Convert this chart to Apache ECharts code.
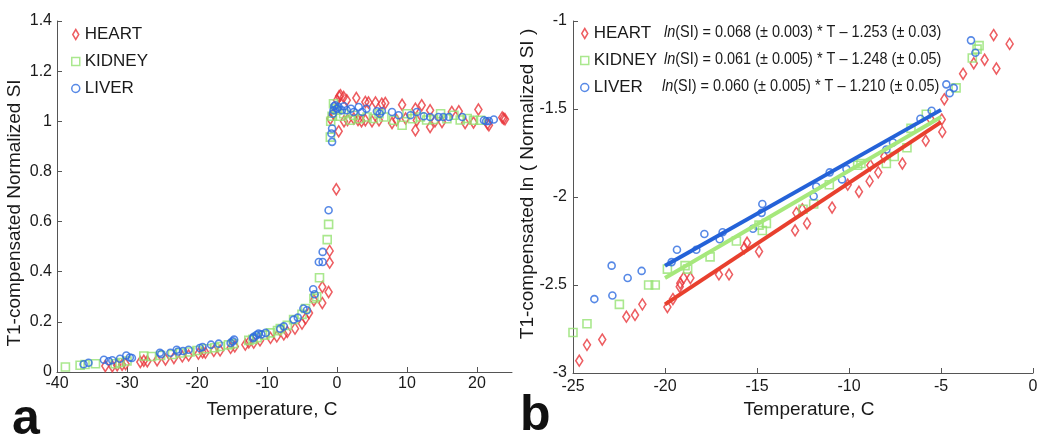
<!DOCTYPE html>
<html><head><meta charset="utf-8">
<script src="https://cdn.jsdelivr.net/npm/echarts@6/dist/echarts.min.js"></script>
<style>html,body{margin:0;padding:0;background:#fff}#c{width:1050px;height:442px}</style>
</head><body><div id="c"></div>
<script>
// ---------- data ----------
const seriesNames = ['HEART', 'KIDNEY', 'LIVER'];
const equations = [
  '(SI) = 0.068 (\u00b1 0.003) * T \u2013 1.253 (\u00b1 0.03)',
  '(SI) = 0.061 (\u00b1 0.005) * T \u2013 1.248 (\u00b1 0.05)',
  '(SI) = 0.060 (\u00b1 0.005) * T \u2013 1.210 (\u00b1 0.05)'
];
const leftXTicks = [-40, -30, -20, -10, 0, 10, 20];
const leftYTicks = [0, 0.2, 0.4, 0.6, 0.8, 1, 1.2, 1.4];
const rightXTicks = [-25, -20, -15, -10, -5, 0];
const rightYTicks = [-3, -2.5, -2, -1.5, -1];

const heartLeft = [
[-33.1,0.024],[-32.1,0.023],[-31.4,0.027],[-30.7,0.029],[-30.2,0.032],[-28.1,0.040],[-27.6,0.045],[-27.1,0.043],[-25.7,0.047],[-24.5,0.050],[-23.3,0.056],[-22.1,0.062],[-21.2,0.066],[-19.8,0.073],[-19.2,0.078],[-18.8,0.077],[-17.6,0.084],[-16.7,0.086],[-15.2,0.096],[-14.6,0.102],[-13.1,0.109],[-12.6,0.118],[-11.9,0.117],[-11.0,0.126],[-9.5,0.136],[-8.6,0.142],[-7.6,0.150],[-7.1,0.160],[-6.0,0.173],[-5.0,0.193],[-4.5,0.213],[-4.0,0.235],[-3.3,0.286],[-2.1,0.275],[-2.1,0.339],[-1.2,0.319],[-1.05,0.436],[-1.05,0.483],[-0.1,0.729],[0.24,0.96],
[-0.95,1.01],[-0.5,1.03],[0,1.084],[0.3,1.10],[0.5,1.104],[0.95,1.097],[1.4,1.084],[1.0,1.0],[1.5,1.005],[2.4,1.011],[2.76,1.093],[3.0,1.005],[3.5,1.0],[4.05,1.077],[4.05,1.004],[4.5,1.075],[5.0,1.0],[5.5,1.075],[6.0,1.004],[6.4,1.07],[6.9,1.073],[7.86,0.993],[8.5,1.005],[9.3,1.066],[9.8,1.011],[11.2,0.964],[11.2,1.05],[11.4,1.004],[12.1,1.064],[13.3,0.977],[13.3,1.044],[14.0,1.0],[15.0,0.997],[16.4,1.037],[17.4,1.04],[18.3,0.993],[19.5,0.995],[20.2,1.047],[21.5,0.99],[21.7,0.984],[23.6,1.015],[23.8,1.011],[24.0,1.008]
];
const kidneyLeft = [
[-38.8,0.020],[-36.7,0.027],[-36.0,0.030],[-34.5,0.033],[-31.7,0.033],[-31.0,0.038],[-30.0,0.044],[-27.6,0.064],[-26.5,0.062],[-25.2,0.066],[-23.5,0.070],[-22.4,0.076],[-21.0,0.080],[-20.0,0.086],[-18.6,0.093],[-17.5,0.097],[-16.7,0.102],[-15.5,0.108],[-14.8,0.113],[-12.6,0.126],[-12.0,0.130],[-11.4,0.137],[-10.3,0.147],[-9.5,0.156],[-8.5,0.165],[-8.1,0.173],[-7.1,0.186],[-6.2,0.209],[-5.0,0.230],[-4.5,0.253],[-3.3,0.293],[-2.9,0.300],[-2.5,0.376],[-1.4,0.528],[-1.2,0.589],[-0.95,0.937],
[-0.9,1.0],[-0.7,1.02],[-0.5,1.07],[-0.3,1.05],[0,1.044],[0.5,1.02],[0.95,1.03],[1.9,1.004],[2.4,1.024],[3.2,1.01],[4.3,1.017],[5.2,1.011],[6.0,1.03],[6.7,1.017],[8.1,1.004],[9.3,0.984],[10.0,1.03],[10.8,1.01],[11.9,1.017],[12.8,1.005],[13.8,1.007],[14.8,1.03],[15.7,1.01],[16.7,1.024],[17.6,1.005],[18.6,1.011],[19.5,1.004],[20.5,1.004]
];
const liverLeft = [
[-36.2,0.031],[-35.5,0.037],[-33.3,0.049],[-32.6,0.043],[-32.1,0.047],[-31.0,0.053],[-30.1,0.066],[-29.6,0.058],[-29.3,0.056],[-25.3,0.077],[-25.1,0.072],[-23.8,0.077],[-22.9,0.089],[-22.7,0.082],[-22.0,0.084],[-21.2,0.089],[-19.6,0.096],[-19.2,0.100],[-18.0,0.109],[-16.9,0.113],[-15.2,0.116],[-14.9,0.122],[-14.7,0.129],[-12.0,0.135],[-11.9,0.140],[-11.5,0.147],[-11.2,0.153],[-10.8,0.150],[-10.2,0.156],[-8.1,0.173],[-7.6,0.182],[-6.2,0.209],[-5.6,0.217],[-4.8,0.253],[-4.3,0.246],[-3.4,0.330],[-3.2,0.310],[-2.6,0.439],[-2.05,0.439],[-2.05,0.479],[-1.2,0.645],[-0.7,0.918],[-0.8,0.951],[-0.7,0.971],
[-0.6,1.03],[-0.5,1.044],[-0.4,1.06],[-0.24,1.064],[0,1.05],[0.24,1.057],[0.7,1.044],[1.0,1.06],[1.4,1.044],[2.0,1.05],[2.4,1.037],[3.1,1.057],[3.6,1.037],[4.2,1.05],[5.7,1.04],[6.1,1.03],[6.4,1.04],[7.86,1.037],[8.8,1.024],[10.5,1.024],[11.4,1.037],[12.4,1.02],[13.3,1.017],[14.5,1.017],[15.2,1.017],[16.0,1.017],[17.9,1.017],[21.0,1.004],[21.3,1.0],[21.7,1.001],[22.4,1.007]
];

const heartRight = [
[-24.66,-2.93],[-24.24,-2.84],[-23.41,-2.81],[-22.10,-2.68],[-21.63,-2.67],[-21.23,-2.61],[-19.87,-2.625],[-19.57,-2.58],[-19.2,-2.51],[-19.17,-2.49],[-18.99,-2.46],[-18.62,-2.46],[-17.07,-2.44],[-16.52,-2.44],[-15.69,-2.29],[-15.54,-2.26],[-14.89,-2.31],[-12.93,-2.19],[-12.86,-2.09],[-12.54,-2.07],[-12.28,-2.15],[-10.92,-2.06],[-10.07,-1.93],[-9.46,-1.97],[-8.88,-1.91],[-8.84,-1.82],[-8.41,-1.86],[-8.08,-1.77],[-7.1,-1.81],[-5.83,-1.68],[-5.58,-1.555],[-4.96,-1.56],[-4.93,-1.63],[-4.82,-1.445],[-3.80,-1.30],[-3.22,-1.24],[-2.63,-1.22],[-2.14,-1.08],[-1.99,-1.27],[-1.27,-1.13]
];
const kidneyRight = [
[-25.0,-2.77],[-24.24,-2.72],[-22.48,-2.61],[-20.89,-2.50],[-20.53,-2.50],[-19.87,-2.41],[-18.91,-2.39],[-18.77,-2.41],[-17.55,-2.34],[-16.12,-2.25],[-14.89,-2.16],[-14.71,-2.19],[-14.49,-2.15],[-12.5,-2.07],[-11.92,-2.04],[-11.07,-1.93],[-9.53,-1.82],[-9.35,-1.81],[-7.97,-1.81],[-7.54,-1.77],[-6.85,-1.72],[-6.63,-1.61],[-5.8,-1.53],[-4.18,-1.38],[-3.30,-1.21],[-3.04,-1.16],[-2.93,-1.14]
];
const liverRight = [
[-23.84,-2.58],[-22.86,-2.56],[-22.9,-2.39],[-22.03,-2.46],[-21.27,-2.42],[-19.64,-2.37],[-19.35,-2.30],[-18.3,-2.30],[-17.86,-2.21],[-17.03,-2.24],[-16.87,-2.20],[-15.22,-2.18],[-14.71,-2.04],[-14.75,-2.09],[-11.92,-1.996],[-11.78,-1.94],[-11.05,-1.86],[-10.38,-1.90],[-10.14,-1.84],[-7.97,-1.73],[-7.61,-1.69],[-6.12,-1.555],[-5.51,-1.51],[-4.71,-1.36],[-4.53,-1.41],[-4.31,-1.38],[-3.37,-1.11],[-3.13,-1.18]
];
const heartFit = [[-20,-2.61],[-5,-1.575]];
const kidneyFit = [[-20,-2.46],[-5,-1.545]];
const liverFit = [[-20,-2.39],[-5,-1.505]];

// ---------- styles ----------
const FONT = "'Liberation Sans', Arial, Helvetica, sans-serif";
const RED = '#e8343a', GREEN = '#95e272', BLUE = '#2d6be0';
const RED_L = '#e8402e', GREEN_L = '#a6e87c', BLUE_L = '#2462d8';
const AXIS = '#555';
const LABEL = '#1a1a1a';

const symbols = {
  HEART: {symbol: 'diamond', size: [7, 11], color: RED, icon: 'path://M3,0 L6,5 L3,10 L0,5 Z'},
  KIDNEY: {symbol: 'rect', size: [8, 8], color: GREEN, icon: 'path://M0,0 H8 V8 H0 Z'},
  LIVER: {symbol: 'circle', size: [7, 7], color: BLUE, icon: 'path://M3.5,0 A3.5,3.5 0 1,1 3.49,0 Z'}
};

function scatter(name, data, idx) {
  const s = symbols[name];
  return {
    type: 'scatter', name: name, data: data, xAxisIndex: idx, yAxisIndex: idx,
    symbol: s.symbol, symbolSize: s.size,
    itemStyle: {color: 'rgba(0,0,0,0)', borderColor: s.color, borderWidth: 1.6},
    emphasis: {disabled: true}, z: 2
  };
}
function fitLine(data, color) {
  return {
    type: 'line', data: data, xAxisIndex: 1, yAxisIndex: 1, symbol: 'none', showSymbol: false,
    lineStyle: {color: color, width: 4}, itemStyle: {color: color}, silent: true, z: 3
  };
}
function axisCommon(extra) {
  return Object.assign({
    type: 'value',
    axisLine: {show: true, onZero: false, lineStyle: {color: AXIS, width: 1}},
    splitLine: {show: false}
  }, extra);
}
function ticks(values) {
  return {show: true, inside: true, length: 5, lineStyle: {color: AXIS}, customValues: values};
}
function labels(values, margin) {
  return {color: LABEL, fontFamily: FONT, fontSize: 16, margin: margin, customValues: values};
}
function legendData() {
  return seriesNames.map(n => ({
    name: n, icon: symbols[n].icon,
    itemStyle: {color: 'rgba(0,0,0,0)', borderColor: symbols[n].color, borderWidth: 1.5}
  }));
}
const eqX = [664, 664, 662];
const eqY = [32, 59, 86];
const eqGraphics = equations.map((e, i) => ({
  type: 'text', x: eqX[i], y: eqY[i], scaleX: 0.85,
  style: {
    text: '{i|ln}{e|' + e + '}', textAlign: 'left', textVerticalAlign: 'middle',
    rich: {
      i: {fontStyle: 'italic', fontFamily: FONT, fontSize: 17, fill: LABEL},
      e: {fontFamily: FONT, fontSize: 17, fill: LABEL}
    }
  }
}));

const chart = echarts.init(document.getElementById('c'), null, {renderer: 'canvas'});
chart.setOption({
  animation: false,
  backgroundColor: '#fff',
  grid: [
    {left: 57, top: 21, width: 455, height: 351},
    {left: 573, top: 21, width: 460, height: 352}
  ],
  xAxis: [
    axisCommon({gridIndex: 0, min: -40, max: 25, interval: 10, axisTick: ticks(leftXTicks), axisLabel: labels(leftXTicks, 4)}),
    axisCommon({gridIndex: 1, min: -25, max: 0, interval: 5, axisTick: ticks(rightXTicks), axisLabel: labels(rightXTicks, 6)})
  ],
  yAxis: [
    axisCommon({gridIndex: 0, min: 0, max: 1.4, interval: 0.2, axisTick: ticks(leftYTicks), axisLabel: labels(leftYTicks, 5)}),
    axisCommon({gridIndex: 1, min: -3, max: -1, interval: 0.5, axisTick: ticks(rightYTicks), axisLabel: labels(rightYTicks, 6)})
  ],
  legend: [
    {
      data: legendData(), orient: 'vertical', left: 66, top: 21, itemWidth: 8, itemHeight: 10, itemGap: 10,
      selectedMode: false,
      textStyle: {color: LABEL, fontFamily: FONT, fontSize: 17, lineHeight: 17}
    },
    {
      data: legendData(), orient: 'vertical', left: 575, top: 20, itemWidth: 8, itemHeight: 10, itemGap: 10,
      selectedMode: false,
      textStyle: {color: LABEL, fontFamily: FONT, fontSize: 17, lineHeight: 17}
    }
  ],
  graphic: eqGraphics.concat([
    {type: 'text', x: 15, y: 213, rotation: Math.PI / 2,
      style: {text: 'T1-compensated Normalized SI', font: '19px ' + FONT, fill: LABEL, textAlign: 'center', textVerticalAlign: 'middle'}},
    {type: 'text', x: 272, y: 410,
      style: {text: 'Temperature, C', font: '19px ' + FONT, fill: LABEL, textAlign: 'center', textVerticalAlign: 'middle'}},
    {type: 'text', x: 528, y: 184, rotation: Math.PI / 2,
      style: {text: 'T1-compensated ln ( Normalized SI )', font: '19px ' + FONT, fill: LABEL, textAlign: 'center', textVerticalAlign: 'middle'}},
    {type: 'text', x: 809, y: 410,
      style: {text: 'Temperature, C', font: '19px ' + FONT, fill: LABEL, textAlign: 'center', textVerticalAlign: 'middle'}},
    {type: 'text', x: 12, y: 420,
      style: {text: 'a', font: 'bold 50px ' + FONT, fill: '#111', textAlign: 'left', textVerticalAlign: 'middle'}},
    {type: 'text', x: 520, y: 416,
      style: {text: 'b', font: 'bold 50px ' + FONT, fill: '#111', textAlign: 'left', textVerticalAlign: 'middle'}}
  ]),
  series: [
    scatter('HEART', heartLeft, 0),
    scatter('KIDNEY', kidneyLeft, 0),
    scatter('LIVER', liverLeft, 0),
    scatter('HEART', heartRight, 1),
    scatter('KIDNEY', kidneyRight, 1),
    scatter('LIVER', liverRight, 1),
    fitLine(kidneyFit, GREEN_L),
    fitLine(liverFit, BLUE_L),
    fitLine(heartFit, RED_L)
  ]
});
</script></body></html>
